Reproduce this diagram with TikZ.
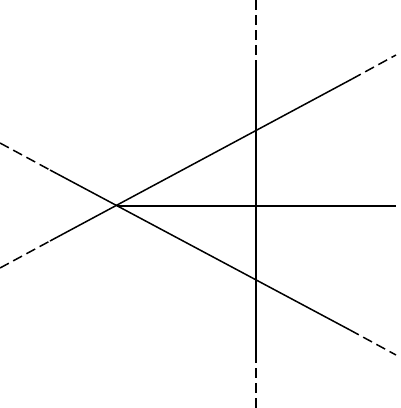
\documentclass[tikz,border=0pt]{standalone}
\begin{document}
\begin{tikzpicture}[x=1pt,y=-1pt,
  solidline/.style={line width=1.5pt},
  dashline/.style={line width=1.5pt, dash pattern=on 10pt off 5pt}]
\useasboundingbox (0,0) rectangle (400,408);
% vertical line
\coordinate (vt) at (256,0);
\coordinate (v1) at (256,67);
\coordinate (v2) at (256,353);
\coordinate (vb) at (256,408);
% crossing point
\coordinate (o) at (117,206);
% descending line
\coordinate (d0) at (0,143);
\coordinate (d1) at (50,170);
\coordinate (d2) at (350,330);
\coordinate (d3) at (396,355);
% ascending line
\coordinate (a0) at (0,268);
\coordinate (a1) at (50,241);
\coordinate (a2) at (352,79);
\coordinate (a3) at (396,55);
% horizontal
\coordinate (h) at (396,206);
\draw[dashline] (vt) -- (v1);
\draw[solidline] (v1) -- (v2);
\draw[dashline] (v2) -- (vb);
\draw[dashline] (d0) -- (d1);
\draw[solidline] (d1) -- (d2);
\draw[dashline] (d2) -- (d3);
\draw[dashline] (a0) -- (a1);
\draw[solidline] (a1) -- (a2);
\draw[dashline] (a2) -- (a3);
\draw[solidline] (o) -- (h);
\end{tikzpicture}
\end{document}
